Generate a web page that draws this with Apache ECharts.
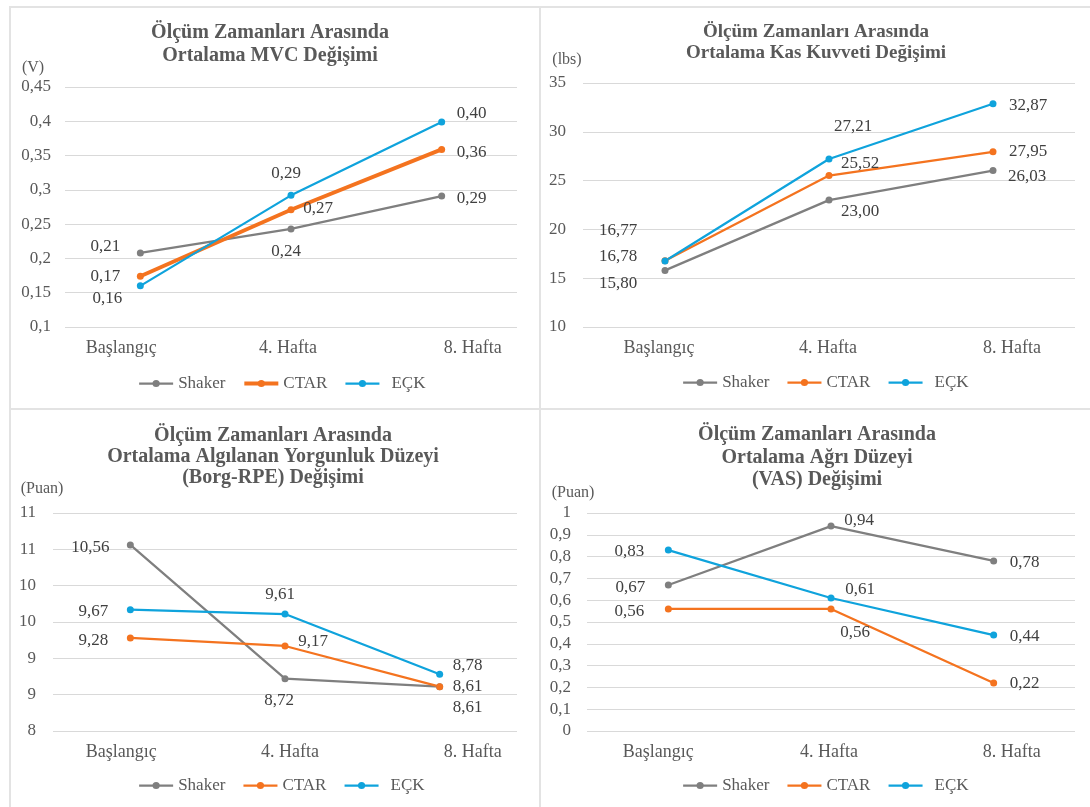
<!DOCTYPE html>
<html lang="tr">
<head>
<meta charset="UTF-8">
<title>Ölçüm Zamanları Arasında</title>
<script src="https://cdn.jsdelivr.net/npm/echarts@6/dist/echarts.min.js"></script>
<style>
html,body{margin:0;padding:0;background:#fff}
#page{position:relative;width:1090px;height:807px;overflow:hidden}
.box{position:absolute;border:2px solid #e3e3e3;box-sizing:border-box}
#chartBox{position:absolute;left:0;top:0;width:1090px;height:807px}
</style>
</head>
<body>
<div id="page">
    <div class="box" style="left:9px;top:6px;width:532px;height:404px"></div>
    <div class="box" style="left:539px;top:6px;width:560px;height:404px"></div>
    <div class="box" style="left:9px;top:408px;width:532px;height:410px"></div>
    <div class="box" style="left:539px;top:408px;width:560px;height:410px"></div>
    <div id="chartBox"></div>
</div>
<script>
// veriler
const categories = ['Başlangıç', '4. Hafta', '8. Hafta'];
const groups = ['Shaker', 'CTAR', 'EÇK'];

// MVC (V)
const mvcShaker = [0.208, 0.243, 0.291];
const mvcCtar = [0.174, 0.271, 0.359];
const mvcEck = [0.160, 0.292, 0.399];

// Kas kuvveti (lbs)
const kasShaker = [15.80, 23.00, 26.03];
const kasCtar = [16.78, 25.52, 27.95];
const kasEck = [16.77, 27.21, 32.87];

// Borg-RPE (Puan)
const borgShaker = [10.56, 8.72, 8.61];
const borgCtar = [9.28, 9.17, 8.61];
const borgEck = [9.67, 9.61, 8.78];

// VAS (Puan)
const vasShaker = [0.67, 0.94, 0.78];
const vasCtar = [0.56, 0.56, 0.22];
const vasEck = [0.83, 0.61, 0.44];

const titles = [
    'Ölçüm Zamanları Arasında\nOrtalama MVC Değişimi',
    'Ölçüm Zamanları Arasında\nOrtalama Kas Kuvveti Değişimi',
    'Ölçüm Zamanları Arasında\nOrtalama Algılanan Yorgunluk Düzeyi\n(Borg-RPE) Değişimi',
    'Ölçüm Zamanları Arasında\nOrtalama Ağrı Düzeyi\n(VAS) Değişimi'
];
const units = ['(V)', '(lbs)', '(Puan)', '(Puan)'];
// eksen aralıkları [min, max, adım]
const yRanges = [[0.1, 0.45, 0.05], [10, 35, 5], [8, 11, 0.5], [0, 1, 0.1]];

const FONT = '"Liberation Serif", "Times New Roman", serif';
const COLORS = ['#7f7f7f', '#f4731f', '#0fa3dc'];
const TXT = '#595959';

const comma = s => String(s).replace('.', ',');
const yFormatters = [
    v => comma(+v.toFixed(2)),
    v => String(v),
    v => String(Math.round(v)),
    v => comma(+v.toFixed(1))
];

// panel yerleşimi
const panels = [
    {grid: {left: 65, top: 87, width: 452, height: 240}, yMargin: 14,
     title: {left: 270, top: 21, size: 20, lh: 23.5}, unit: {left: 33, top: 60},
     legend: {left: 138, top: 375}, xShift: [-19, -3, 31]},
    {grid: {left: 583, top: 83, width: 492, height: 244}, yMargin: 17,
     title: {left: 816, top: 22, size: 19, lh: 21}, unit: {left: 567, top: 52},
     legend: {left: 682, top: 374}, xShift: [-6, -1, 19]},
    {grid: {left: 53, top: 513, width: 464, height: 218}, yMargin: 17,
     title: {left: 273, top: 425, size: 20, lh: 21}, unit: {left: 42, top: 481},
     legend: {left: 138, top: 777}, xShift: [-9, 5, 33]},
    {grid: {left: 587, top: 513, width: 488, height: 218}, yMargin: 16,
     title: {left: 817, top: 424, size: 20, lh: 22.5}, unit: {left: 573, top: 485},
     legend: {left: 682, top: 777}, xShift: [-10, -2, 18]}
];

// veri etiketi kaydırmaları (noktaya göre etiket merkezi)
const labelOffsets = [
    [[[-35, -6], [-5, 23], [30, 3]], [[-35, 0], [27, -1], [30, 3]], [[-33, 13], [-5, -22], [30, -8]]],
    [[[-47, 13], [31, 11], [34, 6]], [[-47, -4], [31, -12], [35, 0]], [[-47, -30], [24, -32], [35, 2]]],
    [[[-40, 3], [-6, 22], [28, 21]], [[-37, 3], [28, -4], [28, 0]], [[-37, 2], [-5, -19], [28, -9]]],
    [[[-38, 3], [28, -6], [31, 2]], [[-39, 3], [24, 24], [31, 0]], [[-39, 1], [29, -8], [31, 1]]]
];

const panelData = [
    [mvcShaker, mvcCtar, mvcEck],
    [kasShaker, kasCtar, kasEck],
    [borgShaker, borgCtar, borgEck],
    [vasShaker, vasCtar, vasEck]
];

function buildOption() {
    let title = [], grid = [], xAxis = [], yAxis = [], series = [], legend = [];
    panels.forEach((p, k) => {
        title.push({
            text: titles[k], left: p.title.left, top: p.title.top, textAlign: 'center', padding: 0,
            textStyle: {fontFamily: FONT, fontSize: p.title.size, fontWeight: 'bold', color: TXT, lineHeight: p.title.lh}
        });
        title.push({
            text: units[k], left: p.unit.left, top: p.unit.top, textAlign: 'center', padding: 0,
            textStyle: {fontFamily: FONT, fontSize: 16, fontWeight: 'normal', color: TXT, lineHeight: 16}
        });
        grid.push(p.grid);
        let rich = {};
        p.xShift.forEach((s, i) => {
            rich['c' + i] = {
                fontFamily: FONT, fontSize: 18, color: TXT,
                padding: s > 0 ? [0, 0, 0, 2 * s] : [0, -2 * s, 0, 0]
            };
        });
        xAxis.push({
            type: 'category', gridIndex: k, data: categories, boundaryGap: true,
            axisLine: {show: false}, axisTick: {show: false},
            axisLabel: {
                margin: 12, fontFamily: FONT, fontSize: 18, color: TXT,
                formatter: (v, i) => '{c' + i + '|' + v + '}', rich: rich
            }
        });
        let r = yRanges[k];
        yAxis.push({
            type: 'value', gridIndex: k, min: r[0], max: r[1], interval: r[2],
            axisLine: {show: false}, axisTick: {show: false},
            splitLine: {lineStyle: {color: '#d9d9d9', width: 1}},
            axisLabel: {margin: p.yMargin, fontFamily: FONT, fontSize: 17, color: TXT, formatter: yFormatters[k]}
        });
        let names = [];
        groups.forEach((g, j) => {
            let name = g + '#' + k;
            // ilk grafikte CTAR çizgisi kalın
            let w = (k === 0 && j === 1) ? 4 : 2.25;
            names.push({name: name, lineStyle: {width: w}});
            series.push({
                type: 'line', name: name, xAxisIndex: k, yAxisIndex: k,
                color: COLORS[j], symbol: 'circle', symbolSize: 7,
                lineStyle: {width: w, color: COLORS[j]},
                itemStyle: {color: COLORS[j]},
                label: {
                    show: true, position: 'inside', fontFamily: FONT, fontSize: 17, color: '#404040',
                    formatter: pr => comma(pr.value.toFixed(2))
                },
                data: panelData[k][j].map((v, i) => ({value: v, label: {offset: labelOffsets[k][j][i]}}))
            });
        });
        legend.push({
            data: names, left: p.legend.left, top: p.legend.top, padding: 0,
            itemWidth: 34, itemHeight: 9, itemGap: 17, selectedMode: false,
            textStyle: {fontFamily: FONT, fontSize: 17, color: TXT, rich: {e: {fontFamily: FONT, fontSize: 17, color: TXT, padding: [0, 0, 0, 7]}}},
            formatter: n => {
                let s = n.split('#')[0];
                return s === 'EÇK' ? '{e|' + s + '}' : s;
            }
        });
    });
    return {animation: false, title, grid, xAxis, yAxis, series, legend};
}

let chartObj = echarts.init(document.getElementById('chartBox'));
chartObj.setOption(buildOption());
</script>
</body>
</html>
